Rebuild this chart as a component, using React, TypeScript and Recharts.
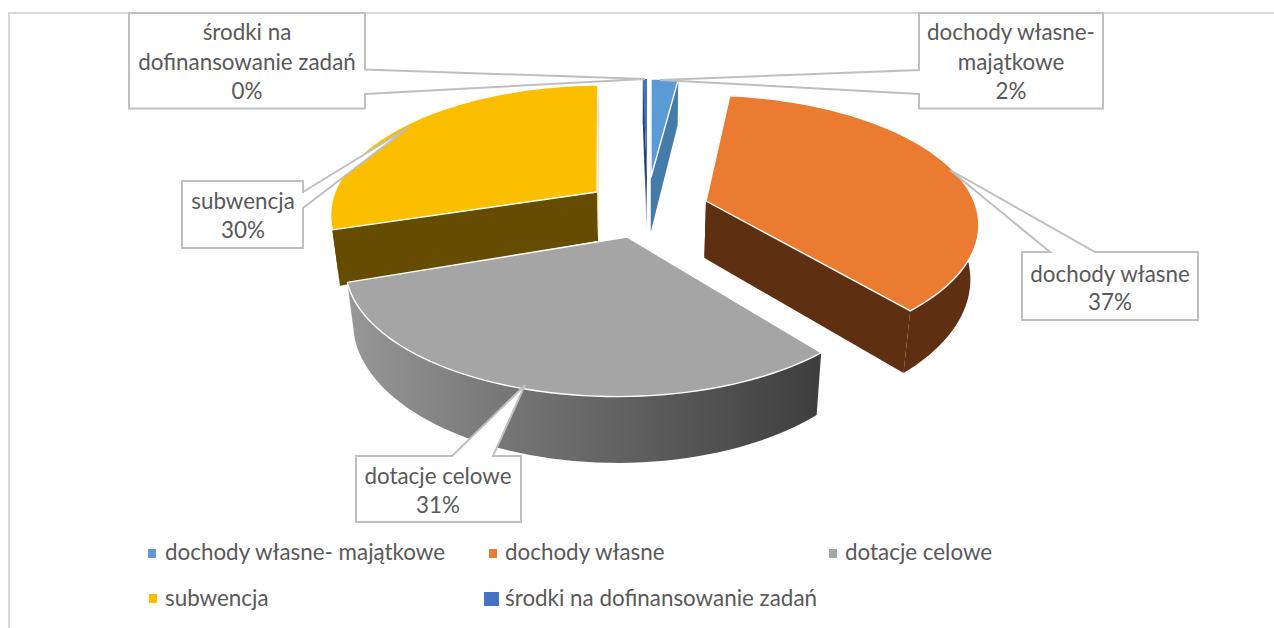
import React from "react";
import { PieChart, Pie, Legend } from "recharts";

const categories = [
  "dochody własne- majątkowe",
  "dochody własne",
  "dotacje celowe",
  "subwencja",
  "środki na dofinansowanie zadań",
];
const shares = [2, 37, 31, 30, 0.3];
const colors = ["#5b9bd5", "#ea7b30", "#a5a5a5", "#fbbf00", "#4472c4"];

const FONT = "Lato, sans-serif";
const FONT_SIZE = 22.4;
const TEXT = "#595959";
const LINE = "#bfbfbf";

// perspective of the tilted disc
const RX = 265;
const RY = 124;
const TILT = 0.216;
const VANISH_X = 640;
const SHRINK = 0.975;

// each exploded wedge: its point (x, y), the centre its arc is measured from (ox, oy) and its shading
const wedges: Record<string, any> = {
  "dochody własne- majątkowe": { x: 651, y: 177, ox: 651, oy: 181, depth: 57, apexDepth: 55, startFace: "#457ba9", endFace: "#457ba9", rim: "#457ba9", edge: "#fff" },
  "dochody własne": { x: 706, y: 201, ox: 702, oy: 197, sx: 1.02, depth: 52, apexDepth: 57, startFace: "#5f2f11", endFace: "#5f2f11", rim: "#5f2f11", edge: "#fff" },
  "dotacje celowe": { x: 627, y: 237, ox: 617, oy: 240, sy: 0.99, depth: 52, apexDepth: 52, startFace: "none", endFace: "none", rim: "url(#grayRim)", edge: "#fff" },
  subwencja: { x: 597, y: 192, ox: 602, oy: 187, depth: 52, apexDepth: 49, startFace: "#654c00", endFace: "#ead28a", rim: "#654c00", edge: "#fff" },
  "środki na dofinansowanie zadań": { x: 647, y: 177, ox: 647, oy: 181, depth: 55, apexDepth: 55, startFace: "url(#navyFace)", endFace: "#2f5597", rim: "#2f5597", edge: "none" },
};

// callout boxes: text lines with baselines, box outline with pointer
const callouts: Record<string, any> = {
  "dochody własne- majątkowe": {
    lines: ["dochody własne-", "majątkowe"], cx: 1011, ys: [40, 70, 99],
    path: [[919, 13], [1103, 13], [1103, 108.5], [919, 108.5], [919, 94], [660, 80], [919, 70]],
  },
  "dochody własne": {
    lines: ["dochody własne"], cx: 1110, ys: [282, 310],
    path: [[1022, 252], [1050, 252], [950, 170], [1095, 252], [1198, 252], [1198, 320], [1022, 320]],
  },
  "dotacje celowe": {
    lines: ["dotacje celowe"], cx: 438, ys: [484, 513],
    path: [[356, 456], [452, 456], [525, 385], [493, 456], [521, 456], [521, 522], [356, 522]],
  },
  subwencja: {
    lines: ["subwencja"], cx: 243, ys: [209, 238],
    path: [[182, 181], [303, 181], [303, 192], [409, 127], [303, 208], [303, 248], [182, 248]],
  },
  "środki na dofinansowanie zadań": {
    lines: ["środki na", "dofinansowanie zadań"], cx: 247, ys: [40, 70, 99],
    path: [[129, 13], [365, 13], [365, 69.5], [645, 79], [365, 94], [365, 108.5], [129, 108.5]],
  },
};

const legendSpots = [
  { x: 148, y: 549, w: 8, h: 9, tx: 165, ty: 560 },
  { x: 489, y: 549, w: 8, h: 9, tx: 505, ty: 560 },
  { x: 829, y: 549, w: 8, h: 9, tx: 845, ty: 560 },
  { x: 149, y: 594, w: 8, h: 9, tx: 165, ty: 606 },
  { x: 484, y: 592, w: 15, h: 14, tx: 505, ty: 606 },
];

// gray has to paint over the yellow side wall, so yellow comes first in the pie
const drawOrder = [3, 4, 0, 1, 2];
const pieData = drawOrder.map((i) => ({ name: categories[i], value: shares[i], fill: colors[i] }));
const START_CLOCKWISE = (shares[0] + shares[1] + shares[2]) / shares.reduce((a, b) => a + b, 0) * 360;

const project = (theta: number, sx = 1, sy = 1) => {
  const rad = (theta * Math.PI) / 180;
  const a = Math.sin(rad);
  const b = -Math.cos(rad);
  const s = 1 / (1 - TILT * b);
  return { x: RX * sx * a * s, y: RY * sy * b * s, s };
};

const WedgeShape = (props: any) => {
  const { startAngle, endAngle, fill } = props;
  const name = props.name ?? props.payload?.name;
  const w = wedges[name];
  const t1 = 90 - startAngle;
  const t2 = 90 - endAngle;
  const steps = Math.max(2, Math.ceil((t2 - t1) / 2));
  const top: { x: number; y: number }[] = [];
  const bottom: { x: number; y: number }[] = [];
  for (let i = 0; i <= steps; i++) {
    const p = project(t1 + ((t2 - t1) * i) / steps, w.sx, w.sy);
    const x = w.ox + p.x;
    const y = w.oy + p.y;
    top.push({ x, y });
    bottom.push({ x: VANISH_X + (x - VANISH_X) * SHRINK, y: y + w.depth * p.s });
  }
  const apex = { x: w.x, y: w.y };
  const apexLow = { x: VANISH_X + (w.x - VANISH_X) * SHRINK, y: w.y + w.apexDepth };
  const pts = (list: { x: number; y: number }[]) => list.map((p) => `${p.x},${p.y}`).join(" ");
  return (
    <g>
      <defs>
        <linearGradient id="grayRim" gradientUnits="userSpaceOnUse" x1={345} y1={0} x2={820} y2={0}>
          <stop offset="0" stopColor="#989898" />
          <stop offset="0.35" stopColor="#757575" />
          <stop offset="1" stopColor="#3e3e3e" />
        </linearGradient>
        <linearGradient id="navyFace" gradientUnits="userSpaceOnUse" x1={0} y1={170} x2={0} y2={234}>
          <stop offset="0" stopColor="#22406f" />
          <stop offset="1" stopColor="#d8dfea" />
        </linearGradient>
      </defs>
      <polygon points={pts([...top, ...[...bottom].reverse()])} fill={w.rim} />
      <polygon points={pts([apex, top[0], bottom[0], apexLow])} fill={w.startFace} />
      <polygon points={pts([apex, top[steps], bottom[steps], apexLow])} fill={w.endFace} />
      <polygon points={pts([apex, ...top])} fill={fill} stroke={w.edge} strokeWidth={1.4} strokeLinejoin="round" />
    </g>
  );
};

const Callout = (props: any) => {
  const name = props.name ?? props.payload?.name;
  const c = callouts[name];
  const pct = `${Math.round(props.percent * 100)}%`;
  const rows = [...c.lines, pct];
  return (
    <g>
      <polygon points={c.path.map((p: number[]) => p.join(",")).join(" ")} fill="#fff" stroke={LINE} strokeWidth={2} />
      {rows.map((row: string, i: number) => (
        <text key={i} x={c.cx} y={c.ys[i]} textAnchor="middle" fontFamily={FONT} fontSize={FONT_SIZE} fill={TEXT}>
          {row}
        </text>
      ))}
    </g>
  );
};

const LegendRows = () => (
  <div style={{ position: "relative", width: 1274, height: 628, fontFamily: FONT, fontSize: FONT_SIZE, color: TEXT }}>
    {categories.map((name, i) => {
      const spot = legendSpots[i];
      return (
        <React.Fragment key={name}>
          <div style={{ position: "absolute", left: spot.x, top: spot.y, width: spot.w, height: spot.h, background: colors[i] }} />
          <div style={{ position: "absolute", left: spot.tx, top: spot.ty - 21, lineHeight: "26px", whiteSpace: "nowrap" }}>{name}</div>
        </React.Fragment>
      );
    })}
  </div>
);

export default function App() {
  return (
    <div style={{ position: "fixed", left: 0, top: 0, width: 1274, height: 628, overflow: "hidden", background: "#fff" }}>
      <div style={{ position: "absolute", left: 8, top: 12, width: 1290, height: 640, border: "2px solid #d9d9d9" }} />
      <PieChart width={1274} height={628} margin={{ top: 0, right: 0, bottom: 0, left: 0 }} style={{ position: "absolute", left: 0, top: 0 }}>
        <Pie
          data={pieData}
          dataKey="value"
          nameKey="name"
          cx={640}
          cy={200}
          outerRadius={100}
          startAngle={90 - START_CLOCKWISE}
          endAngle={90 - START_CLOCKWISE - 360}
          shape={WedgeShape}
          label={Callout}
          labelLine={false}
          isAnimationActive={false}
        />
        <Legend content={<LegendRows />} wrapperStyle={{ left: 0, top: 0, width: 1274, height: 628 }} />
      </PieChart>
    </div>
  );
}
